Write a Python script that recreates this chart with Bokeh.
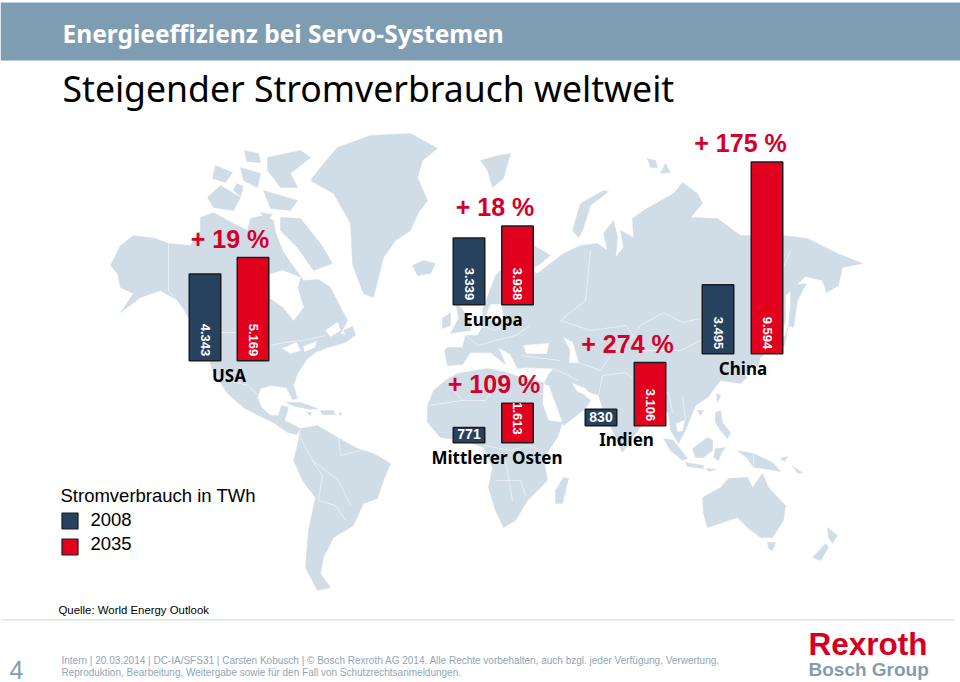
from math import pi
from bokeh.plotting import figure
from bokeh.models import Range1d, ColumnDataSource
from bokeh.core.properties import value
from bokeh.embed import file_html
from bokeh.resources import INLINE

# ---- data ----
regions = ["USA", "Europa", "Mittlerer Osten", "Indien", "China"]
twh_2008 = [4343, 3339, 771, 830, 3495]
twh_2035 = [5169, 3938, 1613, 3106, 9594]
# bar lengths as drawn in the picture (the Mittlerer Osten 2035 bar is longer than its label)
bar_2008 = [4343, 3339, 771, 830, 3450]
bar_2035 = [5169, 3938, 1975, 3170, 9594]
labels_2008 = ["4.343", "3.339", "771", "830", "3.495"]
labels_2035 = ["5.169", "3.938", "1.613", "3.106", "9.594"]
growth = ["+ 19 %", "+ 18 %", "+ 109 %", "+ 274 %", "+ 175 %"]
legend_title = "Stromverbrauch in TWh"
legend_years = ["2008", "2035"]

W, H = 960, 682
TWH_PER_PX = 50
def X(s): return s
def Y(s): return (H - s) * TWH_PER_PX

# ---- layout, in page pixels ----
base_y = [360.3, 304.3, 442.3, 425.3, 353.3]
x_2008 = [204.5, 468.5, 468.5, 600.5, 717.5]
x_2035 = [252.5, 517, 517, 649.5, 766.5]
bar_w = 31.5

LAND = "#d0dce6"
land = [
 # North America
 [(110,265),(120,245),(133,235),(155,238),(168,243),(190,245),(200,230),(200,217),(213,212),(233,223),(247,230),(250,218),(263,215),(273,220),(275,232),(282,250),(290,262),(303,280),(318,279),(330,287),(338,303),(347,320),(340,333),(352,337),(345,342),(327,347),(315,352),(307,358),(297,373),(293,385),(297,398),(292,399),(286,387),(270,385),(260,388),(257,397),(261,407),(270,415),(278,415),(281,405),(288,407),(284,420),(292,424),(300,428),(296,434),(287,432),(273,422),(258,415),(243,407),(227,393),(212,370),(202,337),(188,317),(177,300),(160,290),(140,297),(120,312),(133,293),(120,287),(117,273)],
 # Greenland
 [(310,180),(323,163),(337,147),(370,135),(410,133),(437,148),(422,160),(417,177),(427,200),(418,212),(410,230),(395,240),(383,257),(373,297),(363,293),(356,275),(352,263),(350,223),(340,205),(333,193)],
 # Arctic islands
 [(280,217),(300,218),(320,243),(332,263),(313,270),(297,247),(280,230)],
 [(207,197),(220,185),(240,197),(233,210),(213,207)],
 [(267,157),(300,150),(310,157),(290,173),(297,187),(280,187),(267,170)],
 [(240,167),(260,173),(257,187),(243,180)],
 [(263,190),(297,200),(290,210),(270,208)],
 [(215,165),(232,172),(225,182),(212,178)],
 [(244,150),(258,153),(260,162),(246,161)],
 [(236,183),(243,186),(240,196),(233,190)],
 [(260,212),(272,214),(266,221)],
 # Newfoundland, Cuba, Hispaniola, Iceland and Antilles
 [(343,330),(352,326),(355,335),(347,338)],
 [(285,402),(300,402),(317,408),(310,409),(295,406)],
 [(320,410),(333,410),(335,414),(322,414)],
 [(306,412),(311,412),(310,415)],
 [(338,412),(342,413),(340,415)],
 [(412,265),(423,260),(435,263),(430,273),(417,275)],
 # South America
 [(300,428),(317,425),(337,437),(357,448),(373,453),(390,463),(383,480),(377,498),(363,503),(353,525),(333,537),(323,557),(320,573),(330,587),(317,590),(305,567),(308,530),(315,497),(302,480),(293,460),(297,445)],
 # Africa
 [(427,405),(433,390),(445,380),(457,373),(487,368),(507,372),(520,377),(543,382),(542,403),(548,420),(562,422),(557,437),(543,457),(547,480),(527,500),(515,520),(503,527),(495,510),(488,487),(492,467),(483,447),(463,440),(440,437),(427,422)],
 [(563,477),(568,478),(562,503),(555,503),(555,490)],
 # Eurasia
 [(444,350),(447,347),(462,347),(465,335),(477,335),(483,325),(482,310),(495,275),(515,255),(533,245),(550,255),(540,263),(530,270),(537,273),(550,263),(563,253),(580,245),(597,243),(607,250),(603,233),(613,220),(617,237),(615,257),(623,247),(620,230),(633,237),(632,218),(643,210),(673,193),(682,182),(697,193),(702,203),(690,217),(717,218),(740,235),(783,235),(807,238),(837,253),(862,263),(842,267),(838,285),(826,292),(822,280),(805,276),(785,295),(785,322),(776,338),(768,350),(760,357),(757,367),(740,383),(720,380),(707,397),(695,405),(690,417),(685,430),(678,443),(670,430),(668,412),(655,410),(645,420),(630,440),(622,452),(612,430),(603,410),(598,395),(585,390),(572,385),(590,400),(585,408),(563,425),(548,390),(544,382),(548,374),(553,368),(525,367),(517,368),(510,354),(498,347),(505,364),(490,352),(470,352),(462,364),(447,365)],
 # Britain, Ireland, Svalbard, Novaya Zemlya, Franz Josef
 [(455,300),(470,320),(470,330),(450,333),(458,318)],
 [(442,318),(450,312),(450,325),(442,328)],
 [(480,160),(498,155),(510,153),(503,178),(492,187),(487,170)],
 [(572,230),(580,203),(603,190),(608,191),(590,205),(582,230),(578,237)],
 [(647,158),(655,160),(657,167),(650,167)],
 [(660,173),(665,163),(670,172)],
 # Japan / Sakhalin
 [(790,285),(806,283),(797,300),(793,327),(788,325),(790,305)],
 [(772,345),(785,335),(788,325),(784,345),(775,352)],
 # Taiwan, Hainan
 [(716,393),(720,395),(717,402)],
 [(697,410),(703,410),(700,415)],
 # South-east Asia and Oceania
 [(663,438),(673,440),(687,458),(682,460),(670,450)],
 [(685,462),(703,465),(703,468),(687,466)],
 [(706,468),(716,469),(708,471)],
 [(692,448),(707,437),(712,440),(712,450),(703,457),(695,457)],
 [(715,448),(725,447),(721,452),(718,460),(713,457)],
 [(715,412),(720,410),(722,422),(730,432),(727,438),(720,430),(715,422)],
 [(737,450),(753,453),(772,462),(780,471),(763,468),(753,467),(747,458)],
 [(780,458),(787,456),(784,461)],
 [(792,466),(802,472),(798,473)],
 [(702,497),(720,487),(728,478),(747,477),(752,487),(762,473),(768,487),(785,505),(783,520),(772,537),(760,537),(747,527),(737,517),(707,527),(703,513)],
 [(767,542),(775,542),(772,550),(768,548)],
 [(827,527),(837,535),(832,543),(828,537)],
 [(825,543),(828,547),(820,560),(812,557)],
]
water = [
 # Hudson Bay, Great Lakes, St Lawrence
 [(269,274),(282,270),(300,277),(297,287),(303,307),(293,320),(283,307),(270,298)],
 [(282,348),(296,342),(300,350),(290,353)],
 [(303,346),(316,341),(314,347),(304,351)],
 [(325,330),(337,322),(340,330),(330,336)],
 # Baltic
 [(485,316),(490,304),(501,304),(503,318),(494,322)],
 # Black Sea, Caspian
 [(523,345),(548,343),(546,353),(526,353)],
 [(563,337),(572,342),(578,362),(569,362),(570,349)],
 # Red Sea and Persian Gulf
 [(544,385),(548,385),(561,420),(557,420)],
 [(572,383),(585,388),(590,396),(577,391)],
 # Gulf of Thailand
 [(676,423),(684,420),(682,430),(677,431)],
 # Yellow Sea
 [(745,375),(753,363),(757,367),(748,378)],
]
borders = [
 [(168,243),(168,290),(188,315)],
 [(201,332),(236,332)],[(270,345),(284,342),(303,340),(325,335)],
 [(215,375),(235,382),(248,385),(258,395)],
 [(300,437),(312,460),(322,475),(318,500),(335,505),(345,520)],
 [(312,460),(338,480),(350,505)],[(338,437),(340,455),(360,450)],
 [(445,380),(462,400),(485,400),(505,372)],[(427,405),(462,400)],
 [(507,372),(507,395)],[(484,445),(510,450),(528,445),(542,450)],
 [(495,480),(520,480),(525,495)],[(505,460),(512,500)],
 [(538,392),(545,395)],[(465,335),(478,345),(495,340),(515,335),(530,325)],
 [(470,322),(495,330),(510,320)],[(520,355),(560,360)],
 [(553,368),(578,380)],[(560,320),(590,330),(625,325),(640,345)],
 [(578,362),(600,370),(612,352),(625,345)],[(598,395),(602,375),(625,372),(655,395)],
 [(625,345),(640,325),(663,312),(682,322),(700,318)],[(641,350),(680,350),(700,340),(718,345)],
 [(655,395),(668,392),(672,412)],[(682,395),(685,420)],
 [(790,250),(775,285),(768,300)],[(590,250),(585,300),(560,320)],
 [(753,453),(753,467)],
]

# ---- figure ----
p = figure(width=W, height=H, output_backend="svg", toolbar_location=None,
           x_range=Range1d(0, W), y_range=Range1d(0, H * TWH_PER_PX),
           min_border=0, outline_line_color=None, background_fill_color="white",
           border_fill_color="white")
p.axis.visible = False
p.grid.visible = False

def txt(sx, sy, s, size, color, font="Liberation Sans", style="normal", align="left", angle=0, baseline="middle"):
    p.text([X(sx)], [Y(sy)], text=[s], text_font=value(font), text_font_size=f"{size}px",
           text_color=color, text_font_style=style, text_align=align, text_baseline=baseline, angle=angle)

# header
p.quad(left=[X(0)], right=[X(960)], bottom=[Y(60)], top=[Y(2)], fill_color="#7f9db2", line_color=None)
txt(62, 33, "Energieeffizienz bei Servo-Systemen", 24.5, "white", "Noto Sans", "bold")
txt(62, 87, "Steigender Stromverbrauch weltweit", 35.6, "#000000", "Noto Sans")

# map
p.patches([[X(a) for a, b in g] for g in land], [[Y(b) for a, b in g] for g in land],
          fill_color=LAND, line_color=LAND, line_width=0.5)
p.patches([[X(a) for a, b in g] for g in water], [[Y(b) for a, b in g] for g in water],
          fill_color="white", line_color="white", line_width=0.5)
p.multi_line([[X(a) for a, b in g] for g in borders], [[Y(b) for a, b in g] for g in borders],
             line_color="white", line_width=0.7, line_alpha=0.75)

# bars
NAVY, RED, EDGE = "#26425f", "#e2001f", "#1c1c1c"
src = ColumnDataSource(dict(
    x08=[X(v) for v in x_2008], x35=[X(v) for v in x_2035], base=[Y(v) for v in base_y],
    top08=[Y(b) + v for b, v in zip(base_y, bar_2008)],
    top35=[Y(b) + v for b, v in zip(base_y, bar_2035)]))
p.vbar(x="x08", width=bar_w, bottom="base", top="top08", source=src, fill_color=NAVY, line_color=EDGE, line_width=1.5)
p.vbar(x="x35", width=bar_w, bottom="base", top="top35", source=src, fill_color=RED, line_color=EDGE, line_width=1.5)

# value labels
for i, r in enumerate(regions):
    for xs, lab in ((x_2008[i], labels_2008[i]), (x_2035[i], labels_2035[i])):
        if lab in ("771", "830"):
            txt(xs, base_y[i] - 9, lab, 14, "white", "Liberation Sans", "bold", "center")
        else:
            off = 8 if lab == "1.613" else 4.5
            txt(xs, base_y[i] - off, lab, 13, "white", "Liberation Sans", "bold", "right", angle=-pi / 2)

# growth and names
GROW = "#d4002b"
growth_pos = [(229.5, 238), (494.5, 206), (493.5, 383), (627, 343), (740, 142)]
for (gx, gy), g in zip(growth_pos, growth):
    txt(gx, gy, g, 25, GROW, "Liberation Sans", "bold", "center")
name_pos = [(228.5, 375), (492.5, 319), (496.5, 457), (626, 439), (742.5, 368)]
for (nx, ny), n in zip(name_pos, regions):
    txt(nx, ny, n, 17, "#000000", "Noto Sans", "bold", "center")

# legend
txt(60, 495, legend_title, 18.5, "#000000")
p.quad(left=[X(61.5)] * 2, right=[X(77.5)] * 2, bottom=[Y(528.5), Y(554.5)], top=[Y(512.5), Y(538.5)],
       fill_color=[NAVY, RED], line_color=EDGE, line_width=1.2)
txt(90, 519, legend_years[0], 18.5, "#000000")
txt(90, 543, legend_years[1], 18.5, "#000000")

# footer
txt(58, 609, "Quelle: World Energy Outlook", 11.4, "#000000")
p.quad(left=[X(0)], right=[X(954)], bottom=[Y(620)], top=[Y(618.5)], fill_color="#dce5eb", line_color=None)
FOOT = "#8fa6b6"
txt(9, 669, "4", 25, "#7f9db2", "Liberation Sans")
txt(61, 660, "Intern | 20.03.2014 | DC-IA/SFS31 | Carsten Kobusch | © Bosch Rexroth AG 2014. Alle Rechte vorbehalten, auch bzgl. jeder Verfügung, Verwertung,", 10, FOOT)
txt(61, 672, "Reproduktion, Bearbeitung, Weitergabe sowie für den Fall von Schutzrechtsanmeldungen.", 10, FOOT)
txt(808, 643, "Rexroth", 31.5, "#d5001f", "Liberation Sans", "bold")
txt(808, 669, "Bosch Group", 19, "#829db1", "Liberation Sans", "bold")

open("out.html", "w").write(file_html(p, INLINE))
